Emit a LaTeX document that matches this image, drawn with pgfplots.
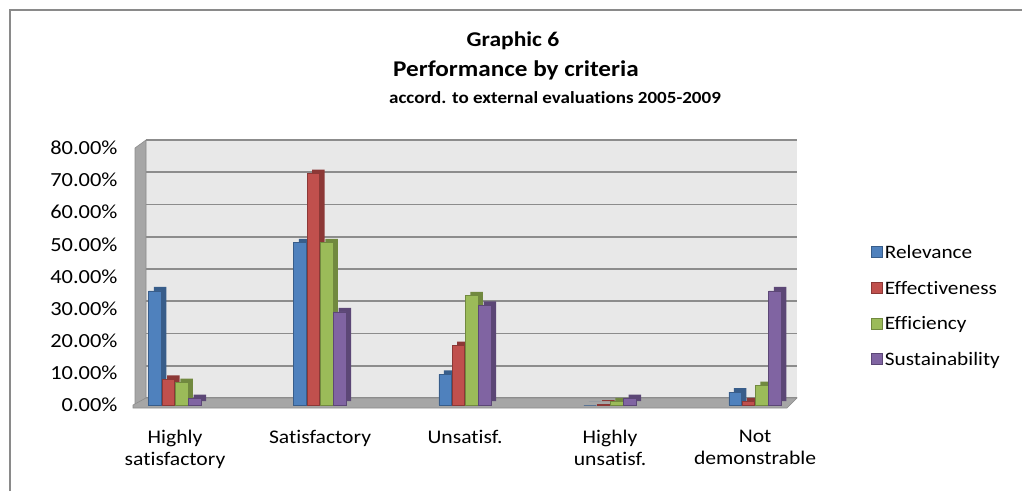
\documentclass[border=0pt]{standalone}
\usepackage{fontspec}
\setmainfont[FakeStretch=1.12, Ligatures={NoCommon}]{Carlito}
\usepackage{pgfplots}
\usepackage{pgfplotstable}
\pgfplotsset{compat=1.18}
\definecolor{cRel}{HTML}{4F81BD}
\definecolor{cEff}{HTML}{C0504D}
\definecolor{cEffi}{HTML}{9BBB59}
\definecolor{cSus}{HTML}{8064A2}
\definecolor{dRel}{HTML}{385D8A}
\definecolor{dEff}{HTML}{8C3836}
\definecolor{dEffi}{HTML}{71893F}
\definecolor{dSus}{HTML}{5C4776}
\definecolor{wallc}{HTML}{E8E8E8}
\definecolor{gridc}{HTML}{8C8C8C}
\definecolor{sidec}{HTML}{A6A6A6}
\definecolor{framec}{HTML}{8A8A8A}
\pgfplotstableread{
x rel eff effi sus
0 35.5 8.0 7.0 2.0
1 50.5 72.0 50.5 29.0
2 9.5 18.5 34.0 31.0
3 0.0 0.3 1.0 2.0
4 4.0 1.0 6.0 35.5
}\datatable
\begin{document}
\begin{tikzpicture}
\useasboundingbox (0pt,0pt) rectangle (1022pt,491pt);
\draw[framec, line width=2pt] (10pt,0pt) -- (10pt,481pt) -- (1022pt,481pt);
\node[font=\bfseries\fontsize{21}{24}\selectfont] at (513pt,450pt) {Graphic 6};
\node[font=\bfseries\fontsize{22.5}{26}\selectfont] at (516pt,421pt) {Performance by criteria};
\node[font=\bfseries\fontsize{17}{20}\selectfont] at (555pt,393pt) {accord. to external evaluations 2005-2009};
% back wall
\begin{axis}[
  scale only axis, width=651pt, height=258pt,
  at={(146pt,93pt)}, anchor=south west,
  xmin=0, xmax=1, ymin=0, ymax=80,
  xtick=\empty, ytick={0,10,...,80}, yticklabels={},
  major tick length=0pt,
  ymajorgrids, grid style={gridc, line width=1.6pt},
  axis line style={draw=none},
  axis background/.style={fill=wallc},
]
\addplot[draw=none, forget plot] coordinates {(0,0)};
\end{axis}
% left wall and floor
\filldraw[fill=sidec, draw=gridc, line width=0.6pt] (135pt,86pt) -- (135pt,343pt) -- (146pt,351pt) -- (146pt,93pt) -- cycle;
\filldraw[fill=sidec, draw=gridc, line width=0.6pt] (133pt,83pt) -- (787pt,83pt) -- (797pt,93pt) -- (146pt,93pt) -- (133pt,86pt) -- cycle;
% front axis
\begin{axis}[
  scale only axis, width=652pt, height=257pt,
  at={(135pt,86pt)}, anchor=south west,
  xmin=-0.276, xmax=4.22, ymin=0, ymax=80,
  ytick={0,10,...,80},
  xtick=data,
  xticklabels={Highly\\satisfactory, Satisfactory, Unsatisf., Highly\\unsatisf., Not\\demonstrable},
  xticklabel style={align=center, yshift=-22pt, font=\fontsize{19.3}{21.5}\selectfont},
  yticklabel style={xshift=-14pt, font=\fontsize{20}{22}\selectfont},
  /pgf/number format/assume math mode=true,
  yticklabel={\pgfmathprintnumber[fixed,fixed zerofill,precision=2]{\tick}\%},
  major tick length=0pt,
  axis line style={draw=none},
  clip=false,
  legend style={at={(1.129,0.63)}, anchor=north west, draw=none, fill=none,
    font=\fontsize{19}{21}\selectfont, row sep=17pt, inner sep=0pt},
  legend cell align=left,
  legend image code/.code={\filldraw[#1, line width=0.6pt] (0pt,-5pt) rectangle (11pt,6pt);},
]
\addplot[ybar, bar width=12.5pt, bar shift=-15pt, fill=dRel, draw=none, yshift=4pt, forget plot] table[x=x,y=rel]{\datatable};
\addplot[ybar, bar width=12.5pt, bar shift=-20pt, fill=cRel, draw=dRel, line width=0.6pt] table[x=x,y=rel]{\datatable};
\addlegendentry{Relevance}
\addplot[ybar, bar width=12.5pt, bar shift=-1.7pt, fill=dEff, draw=none, yshift=4pt, forget plot] table[x=x,y=eff]{\datatable};
\addplot[ybar, bar width=12.5pt, bar shift=-6.7pt, fill=cEff, draw=dEff, line width=0.6pt] table[x=x,y=eff]{\datatable};
\addlegendentry{Effectiveness}
\addplot[ybar, bar width=12.5pt, bar shift=11.6pt, fill=dEffi, draw=none, yshift=4pt, forget plot] table[x=x,y=effi]{\datatable};
\addplot[ybar, bar width=12.5pt, bar shift=6.6pt, fill=cEffi, draw=dEffi, line width=0.6pt] table[x=x,y=effi]{\datatable};
\addlegendentry{Efficiency}
\addplot[ybar, bar width=12.5pt, bar shift=24.9pt, fill=dSus, draw=none, yshift=4pt, forget plot] table[x=x,y=sus]{\datatable};
\addplot[ybar, bar width=12.5pt, bar shift=19.9pt, fill=cSus, draw=dSus, line width=0.6pt] table[x=x,y=sus]{\datatable};
\addlegendentry{Sustainability}
\end{axis}
\end{tikzpicture}
\end{document}
